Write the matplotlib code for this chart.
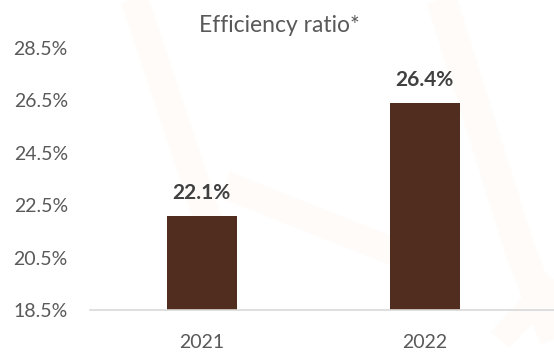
import matplotlib
matplotlib.use("Agg")
import matplotlib.pyplot as plt

years = ["2021", "2022"]
ratios = [22.1, 26.4]
y_ticks = [18.5, 20.5, 22.5, 24.5, 26.5, 28.5]

bar_color = "#502D1E"
tick_color = "#595959"
label_color = "#404040"

plt.rcParams["font.family"] = ["Lato", "DejaVu Sans"]

fig = plt.figure(figsize=(5.54, 3.52), dpi=100)

# faint background watermark strokes
bg = fig.add_axes([0, 0, 1, 1], zorder=0)
bg.set_xlim(0, 554)
bg.set_ylim(352, 0)
bg.axis("off")
wm = "#FFFBF8"
bg.plot([133, 225], [-5, 270], color=wm, lw=20, solid_capstyle="butt")
bg.plot([225, 420], [185, 262], color=wm, lw=20, solid_capstyle="butt")
bg.plot([440, 520], [-5, 250], color=wm, lw=22, solid_capstyle="butt")
bg.plot([520, 560], [250, 352], color=wm, lw=22, solid_capstyle="butt")
bg.plot([500, 560], [340, 275], color=wm, lw=18, solid_capstyle="butt")

ax = fig.add_axes([90 / 554, 1 - 310 / 352, 464 / 554, 262 / 352], zorder=1)
ax.patch.set_alpha(0)

x = list(range(len(years)))
bars = ax.bar(x, ratios, width=0.314, bottom=0, color=bar_color, zorder=2)
ax.set_xlim(-0.5, 1.58)
ax.set_ylim(18.5, 28.5)

ax.set_yticks(y_ticks)
ax.set_yticklabels([f"{v:.1f}%" for v in y_ticks])
ax.set_xticks(x)
ax.set_xticklabels(years)
ax.tick_params(axis="y", length=0, pad=16, labelsize=14, labelcolor=tick_color)
ax.tick_params(axis="x", length=0, pad=17, labelsize=14, labelcolor=tick_color)

for side in ["top", "right", "left"]:
    ax.spines[side].set_visible(False)
ax.spines["bottom"].set_color("#D9D9D9")
ax.spines["bottom"].set_linewidth(1.2)

for xi, v in zip(x, ratios):
    ax.text(xi, v + 0.5, f"{v:.1f}%", ha="center", va="bottom",
            fontsize=15, fontweight="bold", color=label_color)

fig.text(279 / 554, 1 - 26 / 352, "Efficiency ratio*", ha="center", va="center",
         fontsize=16.5, color=tick_color)

fig.savefig("out.png", dpi=100)
